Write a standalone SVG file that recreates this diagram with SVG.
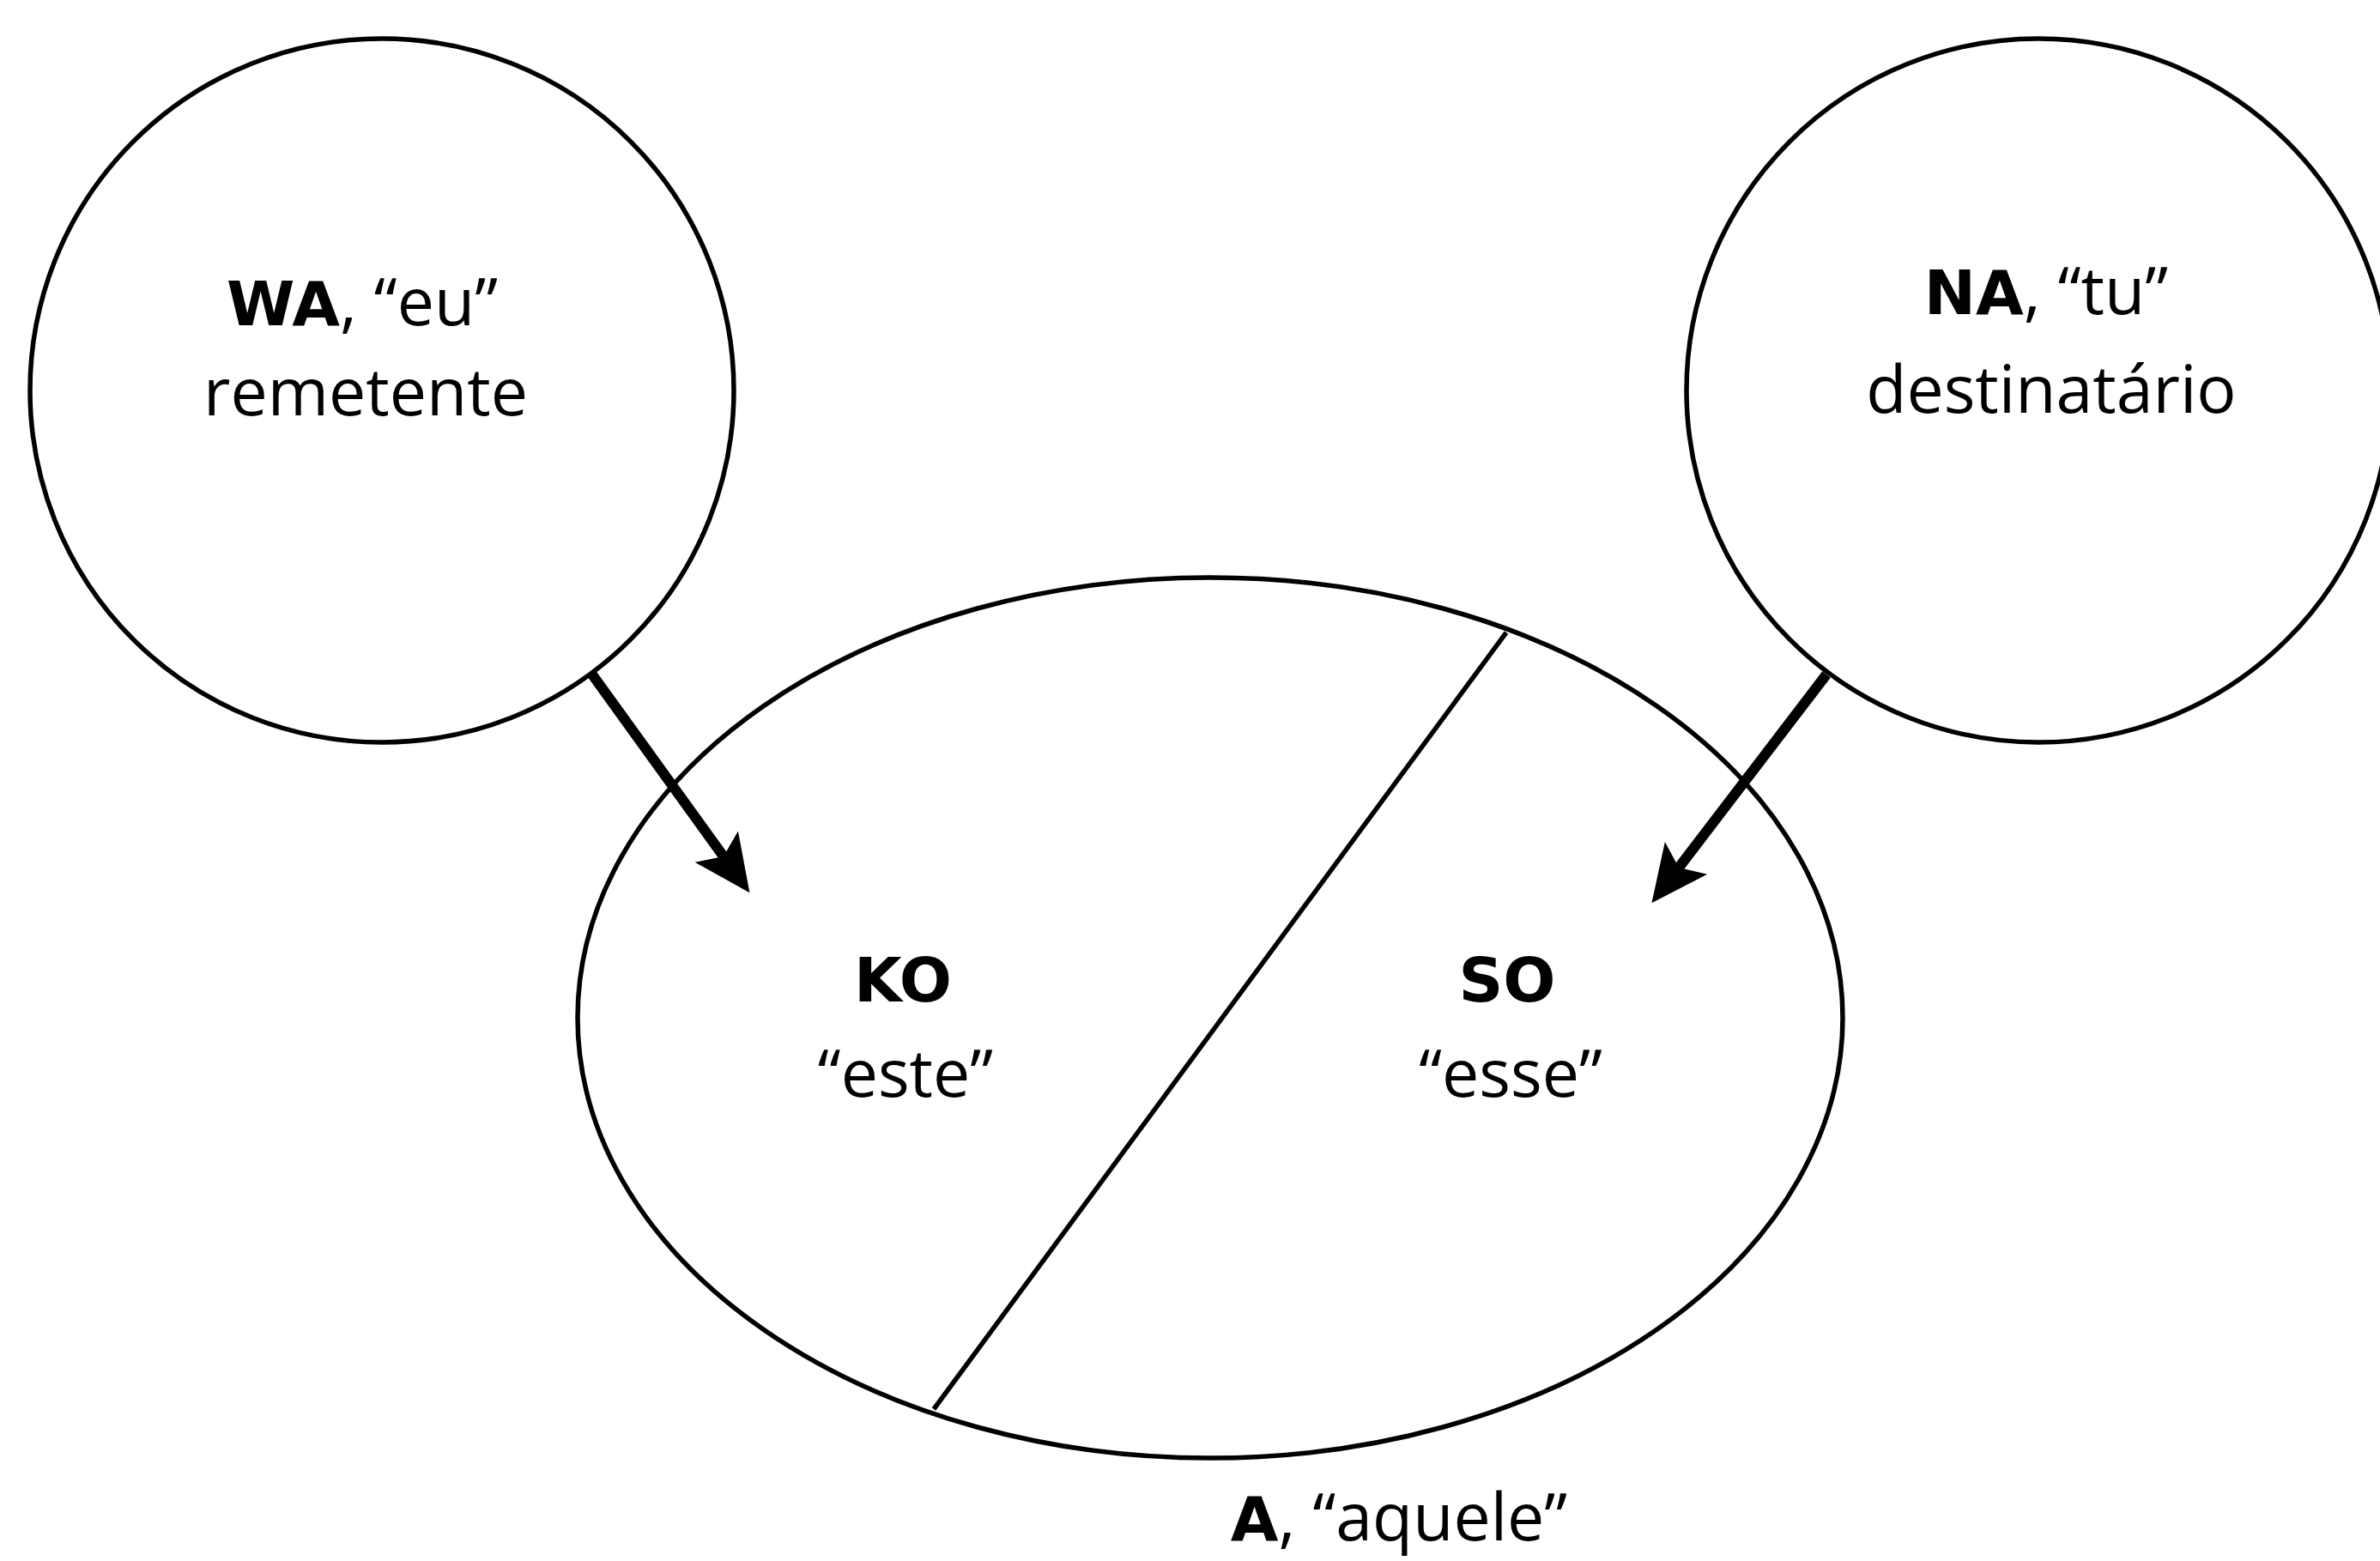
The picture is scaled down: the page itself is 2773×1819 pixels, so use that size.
<svg xmlns="http://www.w3.org/2000/svg" width="2773" height="1819" viewBox="0 0 2773 1819">
<style>
.shape{fill:none;stroke:#000;stroke-width:5.5}
.t{font-family:"Open Sans","Noto Sans",sans-serif;font-size:77px;fill:#000;text-anchor:middle}
.b{font-family:"DejaVu Sans","Liberation Sans",sans-serif;font-weight:bold;font-size:72px}
.conn{stroke:#000;stroke-width:12;fill:none;marker-end:url(#ah)}
.div{stroke:#000;stroke-width:5.5;fill:none}
</style>
<defs>
<marker id="ah" markerUnits="userSpaceOnUse" viewBox="-20 -40 90 80" markerWidth="90" markerHeight="80" refX="0" refY="0" orient="auto">
<path d="M-14,-31 L52,0 L-14,31 L0,0 Z" fill="#000"/>
</marker>
</defs>
<rect width="2773" height="1819" fill="#fff"/>
<g id="node-wa">
<circle class="shape" cx="445" cy="455" r="410"/>
<text class="t" x="422" y="379"><tspan class="b">WA</tspan>, “eu”</text>
<text class="t" x="426" y="484">remetente</text>
</g>
<g id="node-na">
<circle class="shape" cx="2375" cy="455" r="410"/>
<text class="t" x="2384" y="366"><tspan class="b">NA</tspan>, “tu”</text>
<text class="t" x="2390" y="481">destinatário</text>
</g>
<g id="node-a">
<ellipse class="shape" cx="1410" cy="1186" rx="737" ry="513" stroke-width="6"/>
<line class="div" x1="1755" y1="737" x2="1088" y2="1642"/>
<text class="t" x="1630" y="1795"><tspan class="b">A</tspan>, “aquele”</text>
</g>
<g id="node-ko">
<text class="t" x="1052" y="1167"><tspan class="b">KO</tspan></text>
<text class="t" x="1055" y="1278">“este”</text>
</g>
<g id="node-so">
<text class="t" x="1756" y="1167"><tspan class="b">SO</tspan></text>
<text class="t" x="1760" y="1278">“esse”</text>
</g>
<g id="connectors">
<line class="conn" x1="690" y1="786" x2="843" y2="998"/>
<line class="conn" x1="2128" y1="786" x2="1956" y2="1011"/>
</g>
</svg>
